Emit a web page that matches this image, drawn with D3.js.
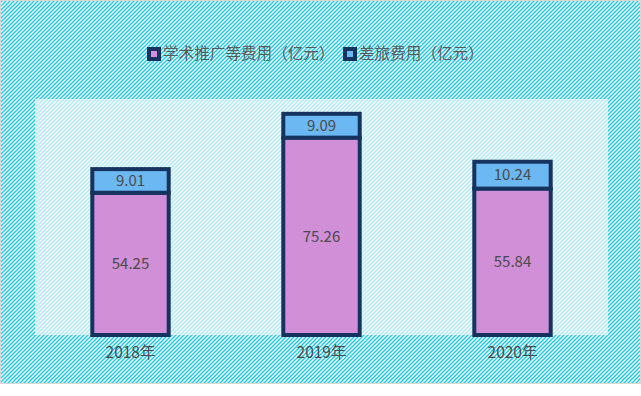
<!DOCTYPE html>
<html>
<head>
<meta charset="utf-8">
<script src="https://cdn.jsdelivr.net/npm/d3@7"></script>
<style>
  body { margin: 0; background: #fff; }
  text { font-family: "Noto Sans CJK SC", "Noto Sans", sans-serif; }
</style>
</head>
<body>
<div id="chart"></div>
<script>
// data
var years = ['2018年', '2019年', '2020年'];
var seriesNames = ['学术推广等费用（亿元）', '差旅费用（亿元）'];
var promoValues = [54.25, 75.26, 55.84];
var travelValues = [9.01, 9.09, 10.24];
var seriesColors = ['#d08fd6', '#6cb8f2'];

var w = 641, h = 396;
var margin = {left: 35, right: 33, top: 99, bottom: 61};

var svg = d3.select("#chart").append("svg")
  .attr("width", w)
  .attr("height", h);

// stripe background, 4x4 tile with a "/" diagonal band
var defs = svg.append("defs");
var pat = defs.append("pattern")
  .attr("id", "stripes")
  .attr("patternUnits", "userSpaceOnUse")
  .attr("width", 4)
  .attr("height", 4);
pat.append("rect").attr("width", 4).attr("height", 4).attr("fill", "#ffffff");
pat.append("path")
  .attr("d", "M0,2L2,0L4,0L0,4Z M4,2L4,4L2,4Z")
  .attr("fill", "#18cbe6");

svg.append("rect")
  .attr("x", 0).attr("y", 0)
  .attr("width", w).attr("height", 384)
  .attr("fill", "url(#stripes)");
svg.append("rect")
  .attr("x", 0.5).attr("y", 0.5)
  .attr("width", w - 1).attr("height", 383)
  .attr("fill", "none")
  .attr("stroke", "#d8d8d8");

// plot area
var x = d3.scaleBand()
  .domain(years)
  .range([margin.left, w - margin.right])
  .paddingInner(0.6)
  .paddingOuter(0.3);

var y = d3.scaleLinear()
  .domain([0, 90])
  .range([h - margin.bottom, margin.top]);

svg.append("rect")
  .attr("x", margin.left)
  .attr("y", margin.top)
  .attr("width", w - margin.left - margin.right)
  .attr("height", h - margin.top - margin.bottom)
  .attr("fill", "#f4f8fa")
  .attr("fill-opacity", 0.7);

// stacked bars
var rows = years.map(function(d, i) { return {year: d, promo: promoValues[i], travel: travelValues[i]}; });
var stack = d3.stack().keys(['promo', 'travel'])(rows);

var layers = svg.append("g").selectAll("g")
  .data(stack)
  .join("g")
  .attr("fill", function(d, i) { return seriesColors[i]; });

layers.selectAll("rect")
  .data(function(d) { return d; })
  .join("rect")
  .attr("x", function(d) { return x(d.data.year); })
  .attr("y", function(d) { return y(d[1]); })
  .attr("width", x.bandwidth())
  .attr("height", function(d) { return y(d[0]) - y(d[1]); })
  .attr("stroke", "#16325e")
  .attr("stroke-width", 4);

layers.selectAll("text")
  .data(function(d) { return d; })
  .join("text")
  .attr("x", function(d) { return x(d.data.year) + x.bandwidth() / 2; })
  .attr("y", function(d) { return (y(d[0]) + y(d[1])) / 2; })
  .attr("dy", "0.35em")
  .attr("text-anchor", "middle")
  .attr("font-size", 15)
  .attr("fill", "#4a4a4a")
  .text(function(d) { return d3.format(".2f")(d[1] - d[0]); });

// x axis labels
var xAxis = d3.axisBottom(x).tickSize(0).tickPadding(12);
var gx = svg.append("g")
  .attr("transform", "translate(0," + (h - margin.bottom) + ")")
  .call(xAxis);
gx.select(".domain").remove();
gx.selectAll("text")
  .attr("font-size", 15.5)
  .attr("fill", "#4a4a4a")
  .style("font-family", '"Noto Sans CJK SC", sans-serif');

// legend
var legendX = [147, 343];
var legend = svg.append("g").selectAll("g")
  .data(seriesNames)
  .join("g")
  .attr("transform", function(d, i) { return "translate(" + legendX[i] + ",47)"; });
legend.append("rect")
  .attr("x", 2).attr("y", 2)
  .attr("width", 10).attr("height", 10)
  .attr("fill", function(d, i) { return seriesColors[i]; })
  .attr("stroke", "#16325e")
  .attr("stroke-width", 4);
legend.append("text")
  .attr("x", 16)
  .attr("y", 7)
  .attr("dy", "0.35em")
  .attr("font-size", 15.6)
  .attr("fill", "#5a5a5a")
  .text(function(d) { return d; });
</script>
</body>
</html>
